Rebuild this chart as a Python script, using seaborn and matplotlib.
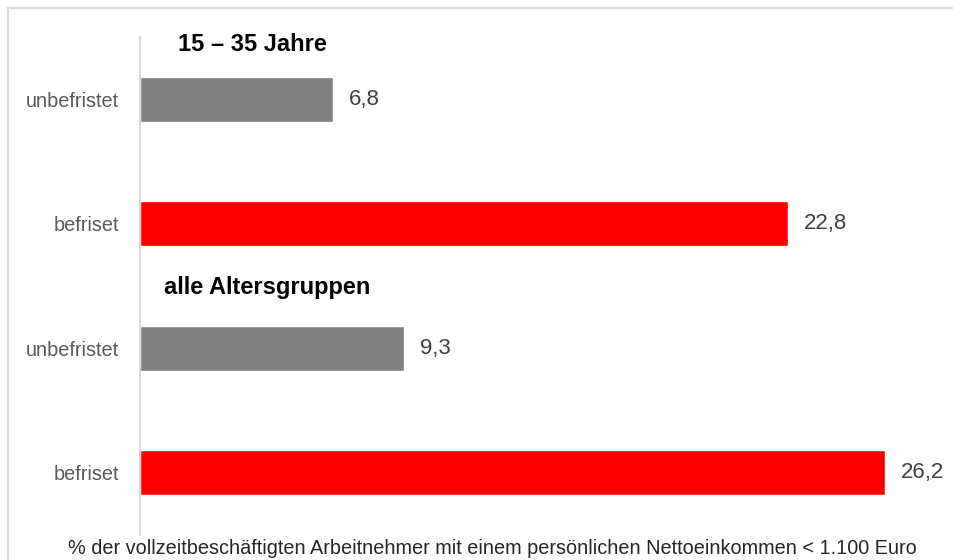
import matplotlib
matplotlib.use("Agg")
import matplotlib.pyplot as plt
import seaborn as sns
import pandas as pd
from matplotlib.patches import Rectangle

categories = ["unbefristet", "befriset", "unbefristet ", "befriset "]
tick_labels = ["unbefristet", "befriset", "unbefristet", "befriset"]
values = [6.8, 22.8, 9.3, 26.2]
value_labels = ["6,8", "22,8", "9,3", "26,2"]
bar_colors = ["#808080", "#ff0000", "#808080", "#ff0000"]
group_titles = ["15 – 35 Jahre", "alle Altersgruppen"]
caption = "% der vollzeitbeschäftigten Arbeitnehmer mit einem persönlichen Nettoeinkommen < 1.100 Euro"

sns.set_theme(style="white")
plt.rcParams["font.family"] = ["Liberation Sans", "DejaVu Sans"]

W, H = 954, 560
fig = plt.figure(figsize=(W / 100, H / 100), dpi=100)
ax = fig.add_axes([140 / W, (H - 535) / H, 800 / W, 498 / H])

df = pd.DataFrame({"cat": categories, "val": values})
sns.barplot(data=df, y="cat", x="val", hue="cat", palette=bar_colors,
            legend=False, width=0.36, ax=ax, orient="h", saturation=1)

px_per_unit = 745 / 26.2
ax.set_xlim(0, 800 / px_per_unit)
ax.set_ylim(3.5, -0.5)

for i, (v, lab) in enumerate(zip(values, value_labels)):
    ax.annotate(lab, (v, i), xytext=(11.5, 0), textcoords="offset points",
                va="center", ha="left", fontsize=16, color="#404040")

ax.text(1.34, -0.44, group_titles[0], fontsize=17, fontweight="bold",
        color="black", va="center", ha="left")
ax.text(0.84, 1.51, group_titles[1], fontsize=17, fontweight="bold",
        color="black", va="center", ha="left")

ax.set_yticks(range(len(tick_labels)))
ax.set_yticklabels(tick_labels, fontsize=14.3, color="#595959")
ax.tick_params(axis="y", length=0, pad=15)
ax.set_xticks([])
ax.set_xlabel("")
ax.set_ylabel("")
for s in ["top", "right", "bottom"]:
    ax.spines[s].set_visible(False)
ax.spines["left"].set_color("#d9d9d9")
ax.spines["left"].set_linewidth(1.5)

fig.text(492 / W, 1 - 548 / H, caption, fontsize=14.3, color="#262626",
         ha="center", va="center")

fig.patches.append(Rectangle((8.5 / W, -0.1), 2, 1 - 7.5 / H + 0.1,
                             transform=fig.transFigure, fill=False,
                             edgecolor="#d9d9d9", linewidth=1.5))

fig.savefig("out.png", dpi=100)
